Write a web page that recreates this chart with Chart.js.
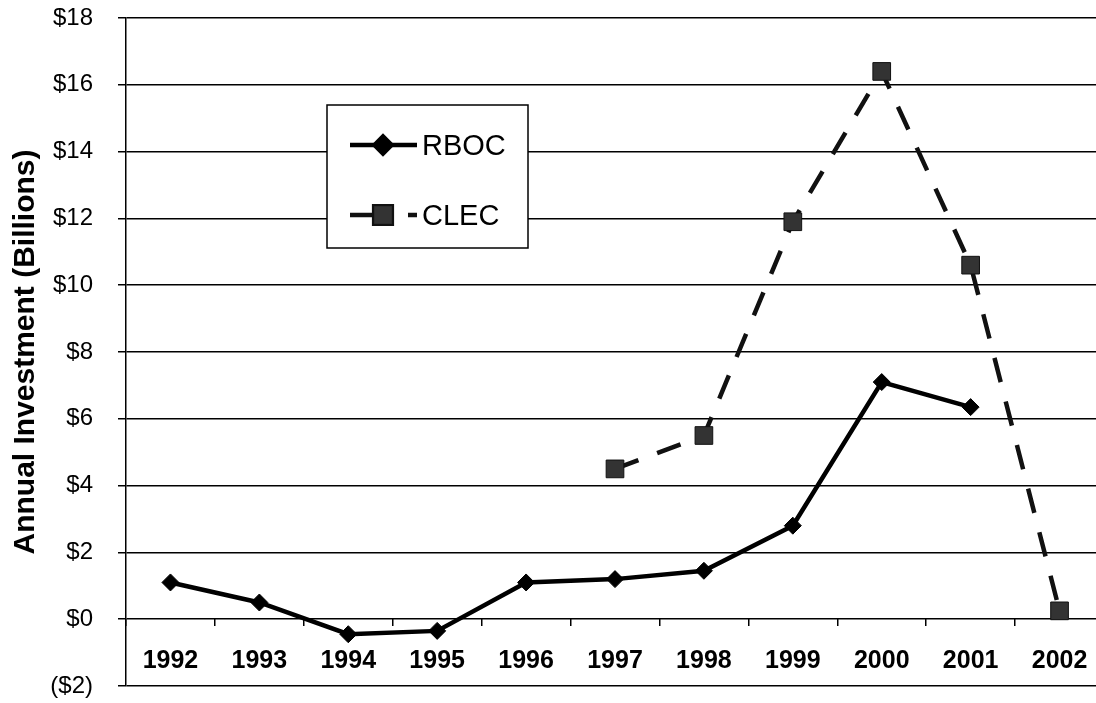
<!DOCTYPE html>
<html>
<head>
<meta charset="utf-8">
<script src="https://cdn.jsdelivr.net/npm/chart.js@4/dist/chart.umd.min.js"></script>
<style>
  html, body { margin: 0; padding: 0; background: #fff; overflow: hidden; }
  #wrap { position: relative; width: 1104px; height: 703px; overflow: hidden; }
  #c { display: block; }
</style>
</head>
<body>
<div id="wrap"><canvas id="c" width="1104" height="703"></canvas></div>
<script>
const years = ['1992','1993','1994','1995','1996','1997','1998','1999','2000','2001','2002'];
const rboc = [1.1, 0.5, -0.45, -0.35, 1.1, 1.2, 1.45, 2.8, 7.1, 6.35, null];
const clec = [null, null, null, null, null, 4.5, 5.5, 11.9, 16.4, 10.6, 0.25];
const yMin = -2, yMax = 18, yStep = 2;
const yTitle = 'Annual Investment (Billions)';
const seriesNames = ['RBOC', 'CLEC'];

const FONT = "Arial, 'Liberation Sans', sans-serif";

const legendBox = {
  id: 'legendBox',
  afterDatasetsDraw(chart) {
    const ctx = chart.ctx;
    const x0 = 327, y0 = 105, w = 201, h = 143;
    ctx.save();
    ctx.fillStyle = '#fff';
    ctx.fillRect(x0, y0, w, h);
    ctx.strokeStyle = '#000';
    ctx.lineWidth = 1.5;
    ctx.strokeRect(x0, y0, w, h);
    const rows = [y0 + 40, y0 + 110];
    chart.data.datasets.forEach((ds, i) => {
      const y = rows[i];
      ctx.strokeStyle = ds.borderColor;
      ctx.lineWidth = ds.borderWidth;
      ctx.setLineDash(i === 1 ? [24, 34] : []);
      ctx.beginPath();
      ctx.moveTo(x0 + 23, y);
      ctx.lineTo(x0 + 90, y);
      ctx.stroke();
      ctx.setLineDash([]);
      Chart.helpers.drawPoint(ctx, {
        pointStyle: ds.pointStyle, radius: ds.pointRadius, borderWidth: 1, rotation: 0
      }, x0 + 56, y);
      ctx.fillStyle = ds.pointBackgroundColor;
      ctx.fill();
      ctx.fillStyle = '#000';
      ctx.font = '29px ' + FONT;
      ctx.textBaseline = 'middle';
      ctx.textAlign = 'left';
      ctx.fillText(ds.label, x0 + 95, y + 2);
    });
    ctx.restore();
  }
};

new Chart(document.getElementById('c'), {
  type: 'line',
  data: {
    labels: years,
    datasets: [
      {
        label: seriesNames[0], data: rboc,
        borderColor: '#000', backgroundColor: '#000', borderWidth: 4.5,
        pointStyle: 'rectRot', pointRadius: 8.5, pointBackgroundColor: '#000',
        pointBorderColor: '#000', pointBorderWidth: 1, tension: 0, spanGaps: false
      },
      {
        label: seriesNames[1], data: clec,
        borderColor: '#111', backgroundColor: '#333', borderWidth: 4.5, borderDash: [25, 20],
        pointStyle: 'rect', pointRadius: 12.5, pointBackgroundColor: '#333',
        pointBorderColor: '#111', pointBorderWidth: 1, tension: 0, spanGaps: false
      }
    ]
  },
  options: {
    responsive: false,
    maintainAspectRatio: false,
    animation: false,
    layout: { autoPadding: false, padding: { top: 18, bottom: 17, left: 0, right: 0 } },
    plugins: { legend: { display: false }, tooltip: { enabled: false } },
    scales: {
      x: {
        type: 'category',
        position: { y: 0 },
        offset: true,
        afterFit(scale) { scale.paddingLeft = 0; scale.paddingRight = 0; scale.paddingTop = 0; scale.paddingBottom = 0; },
        grid: { drawOnChartArea: false, drawTicks: true, tickLength: 7, offset: true, color: '#000', lineWidth: 1.5 },
        border: { display: false },
        ticks: { color: '#000', font: { family: FONT, size: 25, weight: 'bold' }, padding: 20, maxRotation: 0, autoSkip: false }
      },
      y: {
        min: yMin, max: yMax,
        afterFit(scale) { scale.width = 126; scale.paddingTop = 0; scale.paddingBottom = 0; },
        grid: { color: '#000', lineWidth: 1.5, tickLength: 8, drawTicks: true },
        border: { display: true, color: '#000', width: 1.5 },
        ticks: {
          stepSize: yStep, color: '#000', padding: 25,
          font: { family: FONT, size: 24 },
          callback: v => v < 0 ? '($' + Math.abs(v) + ')' : '$' + v
        },
        title: { display: true, text: yTitle, color: '#000', font: { family: FONT, size: 30, weight: 'bold' }, padding: { top: 8, bottom: 0 } }
      }
    }
  },
  plugins: [legendBox]
});
</script>
</body>
</html>
